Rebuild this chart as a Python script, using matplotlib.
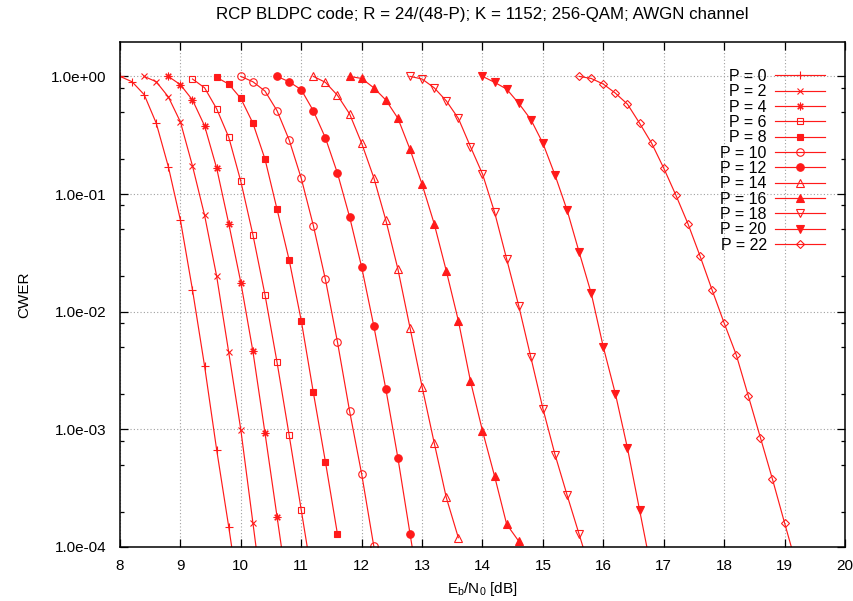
import matplotlib
matplotlib.use("Agg")
import matplotlib.pyplot as plt
from matplotlib.ticker import FixedLocator, FuncFormatter, NullFormatter
import numpy as np

plt.rcParams['font.family'] = ['Liberation Sans', 'DejaVu Sans']
plt.rcParams['mathtext.default'] = 'regular'

# ---------------- data ----------------
p_labels = ["P = 0", "P = 2", "P = 4", "P = 6", "P = 8", "P = 10",
            "P = 12", "P = 14", "P = 16", "P = 18", "P = 20", "P = 22"]

ebn0_p0 = [8.0, 8.2, 8.4, 8.6, 8.8, 9.0, 9.2, 9.4, 9.6, 9.8, 10.0]
cwer_p0 = [1.0, 0.90, 0.70, 0.40, 0.171, 0.060, 0.0153, 3.45e-3, 6.7e-4, 1.48e-4, 3.0e-5]

ebn0_p2 = [8.4, 8.6, 8.8, 9.0, 9.2, 9.4, 9.6, 9.8, 10.0, 10.2, 10.4]
cwer_p2 = [1.0, 0.90, 0.67, 0.41, 0.173, 0.066, 0.020, 4.5e-3, 9.9e-4, 1.6e-4, 2.6e-5]

ebn0_p4 = [8.8, 9.0, 9.2, 9.4, 9.6, 9.8, 10.0, 10.2, 10.4, 10.6, 10.8]
cwer_p4 = [1.0, 0.85, 0.63, 0.38, 0.166, 0.056, 0.0177, 4.6e-3, 9.3e-4, 1.8e-4, 3.5e-5]

ebn0_p6 = [9.2, 9.4, 9.6, 9.8, 10.0, 10.2, 10.4, 10.6, 10.8, 11.0, 11.2]
cwer_p6 = [0.95, 0.80, 0.53, 0.304, 0.128, 0.045, 0.0139, 3.7e-3, 8.9e-4, 2.06e-4, 4.8e-5]

ebn0_p8 = [9.6, 9.8, 10.0, 10.2, 10.4, 10.6, 10.8, 11.0, 11.2, 11.4, 11.6]
cwer_p8 = [0.98, 0.86, 0.65, 0.40, 0.198, 0.074, 0.0275, 8.4e-3, 2.06e-3, 5.3e-4, 1.28e-4]

ebn0_p10 = [10.0, 10.2, 10.4, 10.6, 10.8, 11.0, 11.2, 11.4, 11.6, 11.8, 12.0, 12.2]
cwer_p10 = [1.0, 0.90, 0.75, 0.51, 0.288, 0.136, 0.054, 0.0188, 5.5e-3, 1.43e-3, 4.17e-4, 1.02e-4]

ebn0_p12 = [10.6, 10.8, 11.0, 11.2, 11.4, 11.6, 11.8, 12.0, 12.2, 12.4, 12.6, 12.8, 13.0]
cwer_p12 = [1.0, 0.90, 0.77, 0.51, 0.30, 0.150, 0.064, 0.0239, 7.6e-3, 2.2e-3, 5.7e-4, 1.3e-4, 3.0e-5]

ebn0_p14 = [11.2, 11.4, 11.6, 11.8, 12.0, 12.2, 12.4, 12.6, 12.8, 13.0, 13.2, 13.4, 13.6]
cwer_p14 = [1.0, 0.89, 0.69, 0.48, 0.27, 0.138, 0.060, 0.023, 7.3e-3, 2.3e-3, 7.7e-4, 2.64e-4, 1.2e-4]

ebn0_p16 = [11.8, 12.0, 12.2, 12.4, 12.6, 12.8, 13.0, 13.2, 13.4, 13.6, 13.8, 14.0, 14.2, 14.4, 14.6]
cwer_p16 = [1.0, 0.96, 0.80, 0.63, 0.44, 0.24, 0.121, 0.056, 0.0223, 8.4e-3, 2.58e-3, 9.7e-4, 4.0e-4, 1.56e-4, 1.12e-4]

ebn0_p18 = [12.8, 13.0, 13.2, 13.4, 13.6, 13.8, 14.0, 14.2, 14.4, 14.6, 14.8, 15.0, 15.2, 15.4, 15.6, 15.8]
cwer_p18 = [1.0, 0.95, 0.80, 0.62, 0.44, 0.253, 0.148, 0.070, 0.028, 0.0112, 4.1e-3, 1.5e-3, 6.1e-4, 2.76e-4, 1.28e-4, 5.9e-5]

ebn0_p20 = [14.0, 14.2, 14.4, 14.6, 14.8, 15.0, 15.2, 15.4, 15.6, 15.8, 16.0, 16.2, 16.4, 16.6, 16.8]
cwer_p20 = [1.0, 0.89, 0.78, 0.59, 0.43, 0.27, 0.145, 0.073, 0.032, 0.0143, 5.0e-3, 2.0e-3, 6.9e-4, 2.06e-4, 6.2e-5]

ebn0_p22 = [15.6, 15.8, 16.0, 16.2, 16.4, 16.6, 16.8, 17.0, 17.2, 17.4, 17.6, 17.8, 18.0, 18.2, 18.4, 18.6, 18.8, 19.0, 19.2]
cwer_p22 = [1.0, 0.96, 0.86, 0.72, 0.58, 0.40, 0.27, 0.166, 0.098, 0.056, 0.0298, 0.0153, 8.0e-3, 4.3e-3, 1.92e-3, 8.5e-4, 3.76e-4, 1.6e-4, 6.9e-5]

x_ticks = [8, 9, 10, 11, 12, 13, 14, 15, 16, 17, 18, 19, 20]
y_ticks = [1e-4, 1e-3, 1e-2, 1e-1, 1e0]

series_x = [ebn0_p0, ebn0_p2, ebn0_p4, ebn0_p6, ebn0_p8, ebn0_p10,
            ebn0_p12, ebn0_p14, ebn0_p16, ebn0_p18, ebn0_p20, ebn0_p22]
series_y = [cwer_p0, cwer_p2, cwer_p4, cwer_p6, cwer_p8, cwer_p10,
            cwer_p12, cwer_p14, cwer_p16, cwer_p18, cwer_p20, cwer_p22]

# ---------------- styles ----------------
red = '#ff1a1a'
styles = [
    dict(marker='+', ms=6, mfc=red),
    dict(marker='x', ms=4.6, mfc=red),
    dict(marker=(8, 2, 0), ms=5.5, mfc=red),
    dict(marker='s', ms=5.0, mfc='none'),
    dict(marker='s', ms=5.0, mfc=red),
    dict(marker='o', ms=5.4, mfc='none'),
    dict(marker='o', ms=5.4, mfc=red),
    dict(marker='^', ms=5.4, mfc='none'),
    dict(marker='^', ms=5.4, mfc=red),
    dict(marker='v', ms=5.4, mfc='none'),
    dict(marker='v', ms=5.4, mfc=red),
    dict(marker='D', ms=4.4, mfc='none'),
]

fig = plt.figure(figsize=(8.54, 6.01), dpi=100)
ax = fig.add_axes([120/854, 1-547/601, 725/854, 505/601])

for xs, ys, lab, st in zip(series_x, series_y, p_labels, styles):
    ax.plot(xs, ys, color=red, lw=0.85, mec=red, mew=0.8, label=lab, **st)

ax.set_yscale('log')
ax.set_xlim(8, 20)
ax.set_ylim(1e-4, 1.96)

ax.xaxis.set_major_locator(FixedLocator(x_ticks))
ax.yaxis.set_major_locator(FixedLocator(y_ticks))
minor = [m * 10.0**e for e in range(-4, 0) for m in (2, 5, 8)]
ax.yaxis.set_minor_locator(FixedLocator(minor))
ax.yaxis.set_minor_formatter(NullFormatter())
ax.yaxis.set_major_formatter(FuncFormatter(lambda v, p: "%.1e" % v))

ax.tick_params(which='both', direction='in', top=True, right=True, labelsize=11, colors='black')
ax.tick_params(which='major', length=6, width=0.9)
ax.tick_params(axis='y', which='major', pad=10)
ax.tick_params(axis='x', which='major', pad=9)
ax.tick_params(which='minor', length=3, width=0.9)
ax.tick_params(axis='x', which='minor', bottom=False, top=False)
for s in ax.spines.values():
    s.set_linewidth(1.1)

ax.grid(True, which='major', color='#a0a0a0', linestyle=(0, (1, 2)), linewidth=0.8)

ax.set_xlabel('E$_b$/N$_0$ [dB]', fontsize=11, labelpad=5)
ax.set_ylabel('CWER', fontsize=11, labelpad=14)
fig.text(482/854, 1-15/601, 'RCP BLDPC code; R = 24/(48-P); K = 1152; 256-QAM; AWGN channel',
         ha='center', va='center', fontsize=12.2)

leg = ax.legend(loc='upper right', bbox_to_anchor=((825-120)/725, (547-69)/505),
                markerfirst=False, frameon=False, fontsize=11.5,
                handlelength=3.1, labelspacing=0.02, handletextpad=0.55,
                borderaxespad=0.0, borderpad=0.0, numpoints=1)
for col in leg._legend_handle_box.get_children():
    col.align = 'right'

fig.savefig('out.png', dpi=100)
